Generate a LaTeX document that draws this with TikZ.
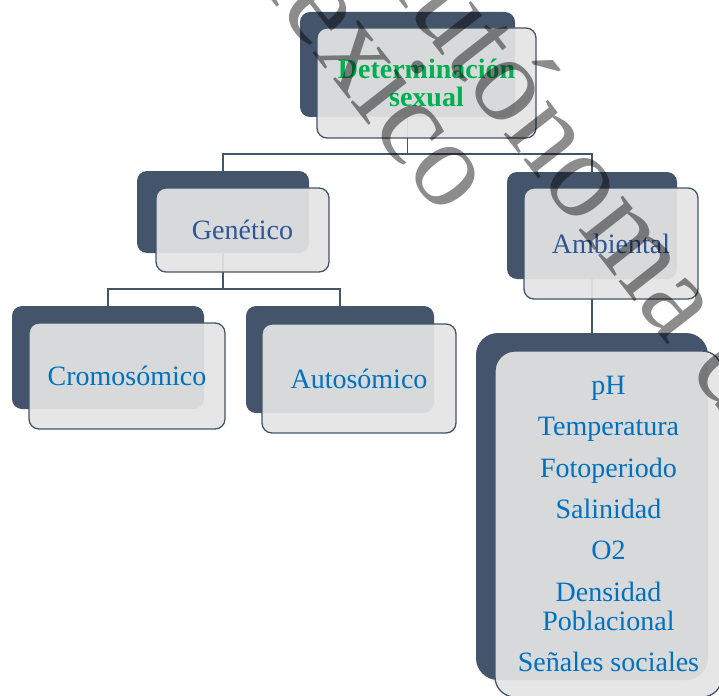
\documentclass[tikz,border=0pt]{standalone}
\usepackage{fontspec}
\setmainfont{Liberation Serif}
\definecolor{slate}{HTML}{44546A}
\definecolor{frontgray}{RGB}{228,228,228}
\definecolor{dgreen}{HTML}{00B050}
\definecolor{dblue}{HTML}{2F5597}
\definecolor{lblue}{HTML}{0070C0}
\pgfdeclarelayer{bg}
\pgfsetlayers{bg,main}
\tikzset{
 backbox/.style={fill=slate, rounded corners=10pt, inner sep=0pt},
 frontbox/.style={fill=frontgray, fill opacity=0.93, text opacity=1, draw=slate, line width=1.3pt, rounded corners=10pt, inner sep=0pt, align=center, font=\fontsize{28}{30}\selectfont},
 conn/.style={draw=slate, line width=1.5pt},
 wmark/.style={text=black, text opacity=0.45, font=\fontsize{122}{130}\selectfont, anchor=base west, rotate=-52, inner sep=0pt}
}
\begin{document}
\begin{tikzpicture}[x=1pt,y=-1pt]
\useasboundingbox (0,0) rectangle (719,695);
\clip (0,0) rectangle (719,695);
% back boxes
\node[backbox, minimum width=215pt, minimum height=105pt] (topB) at (407.5,64.5) {};
\node[backbox, minimum width=172pt, minimum height=82pt] (genB) at (223,212) {};
\node[backbox, minimum width=170pt, minimum height=107pt] (ambB) at (592,225.5) {};
\node[backbox, minimum width=192pt, minimum height=103pt] (croB) at (108,357.5) {};
\node[backbox, minimum width=188pt, minimum height=107pt] (autB) at (340,359.5) {};
\node[backbox, rounded corners=22pt, minimum width=232pt, minimum height=347pt] (bigB) at (592,506.5) {};
% front boxes
\node[frontbox, minimum width=219pt, minimum height=110pt, text=dgreen, font=\fontsize{28}{28}\selectfont\bfseries] (topF) at (426.5,83) {Determinación\\sexual};
\node[frontbox, minimum width=173pt, minimum height=84pt, text=dblue] (genF) at (242.5,230) {Genético};
\node[frontbox, minimum width=174pt, minimum height=111pt, text=dblue] (ambF) at (611,243.5) {Ambiental};
\node[frontbox, minimum width=196pt, minimum height=106pt, text=lblue] (croF) at (127,376) {Cromosómico};
\node[frontbox, minimum width=194pt, minimum height=109pt, text=lblue] (autF) at (359,378.5) {Autosómico};
\node[frontbox, rounded corners=20pt, minimum width=227pt, minimum height=346pt, text=lblue, font=\fontsize{28}{41.3}\selectfont] (bigF) at (608.5,524) {pH\\Temperatura\\Fotoperiodo\\Salinidad\\O2\\Densidad\\[-12.3pt]Poblacional\\Señales sociales};
% connectors
\begin{pgfonlayer}{bg}
\coordinate (bus1) at (407.5,154);
\coordinate (bus2) at (223,289);
\draw[conn] (topB.south) -- (bus1);
\draw[conn] (genB.north) |- (bus1) -| (ambB.north);
\draw[conn] (genB.south) -- (bus2);
\draw[conn] (croB.north) |- (bus2) -| (autB.north);
\draw[conn] (ambB.south) -- (bigB.north);
\end{pgfonlayer}
% watermark
\node[wmark] (wm1) at (352,-60) {Autónoma de};
\node[wmark] (wm2) at (212,-76) {México};
\end{tikzpicture}
\end{document}
